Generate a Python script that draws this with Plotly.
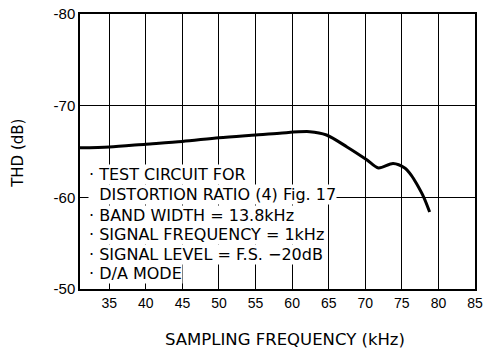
import plotly.graph_objects as go

# THD versus sampling frequency (D/A mode)
freq_khz = [31, 35, 40, 45, 50, 55, 58.3, 62.4, 64.7, 67.5, 70.2, 71.8, 73.8, 75.4, 76.3, 77.0, 78.0, 78.8]
thd_db = [-65.4, -65.5, -65.8, -66.1, -66.5, -66.8, -67.0, -67.16, -66.8, -65.5, -64.1, -63.2, -63.7, -63.2, -62.4, -61.5, -60.0, -58.4]

x_ticks = [35, 40, 45, 50, 55, 60, 65, 70, 75, 80, 85]
y_ticks = [-80, -70, -60, -50]

# test-condition notes: (bullet?, text, THD level of the row)
notes = [
    (True, "TEST CIRCUIT FOR", -62.44),
    (False, "DISTORTION RATIO (4) Fig. 17", -60.29),
    (True, "BAND WIDTH = 13.8kHz", -58.07),
    (True, "SIGNAL FREQUENCY = 1kHz", -55.92),
    (True, "SIGNAL LEVEL = F.S. −20dB", -53.74),
    (True, "D/A MODE", -51.71),
]

TICK_FONT = "Liberation Sans, Arial, sans-serif"
TEXT_FONT = "DejaVu Sans, sans-serif"

fig = go.Figure()
fig.add_trace(go.Scatter(
    x=freq_khz, y=thd_db, mode="lines",
    line=dict(color="black", width=3, shape="spline", smoothing=0.8),
    hoverinfo="skip", showlegend=False,
))

for bullet, txt, yv in notes:
    prefix = "· " if bullet else "&nbsp;&nbsp;"
    fig.add_annotation(
        x=32.1, y=yv, xref="x", yref="y", xanchor="left", yanchor="middle",
        text=prefix + txt, showarrow=False,
        font=dict(family=TEXT_FONT, size=16, color="black"),
        bgcolor="white", borderpad=0,
    )

# axis titles
fig.add_annotation(
    x=0.519, y=-0.182, xref="paper", yref="paper", xanchor="center", yanchor="middle",
    text="SAMPLING FREQUENCY (kHz)", showarrow=False,
    font=dict(family=TEXT_FONT, size=16.5, color="black"),
)
fig.add_annotation(
    x=-0.157, y=0.495, xref="paper", yref="paper", xanchor="center", yanchor="middle",
    text="THD (dB)", showarrow=False, textangle=-90,
    font=dict(family=TEXT_FONT, size=15, color="black"),
)

fig.update_layout(
    width=496, height=352,
    margin=dict(l=80, r=21, t=14, b=63),
    paper_bgcolor="white", plot_bgcolor="white",
    font=dict(family=TICK_FONT, color="black"),
    showlegend=False,
)
fig.update_xaxes(
    range=[31, 85], tickvals=x_ticks, ticktext=[str(v) for v in x_ticks],
    showgrid=True, gridcolor="black", gridwidth=1,
    showline=True, linecolor="black", linewidth=1.5, mirror=True,
    ticks="", zeroline=False, automargin=False,
    tickfont=dict(size=14),
)
fig.update_yaxes(
    range=[-50, -80], tickvals=y_ticks, ticktext=[str(v) for v in y_ticks],
    showgrid=True, gridcolor="black", gridwidth=1,
    showline=True, linecolor="black", linewidth=1.5, mirror=True,
    ticks="", zeroline=False, automargin=False,
    tickfont=dict(size=15),
)

fig.write_html("out.html")
